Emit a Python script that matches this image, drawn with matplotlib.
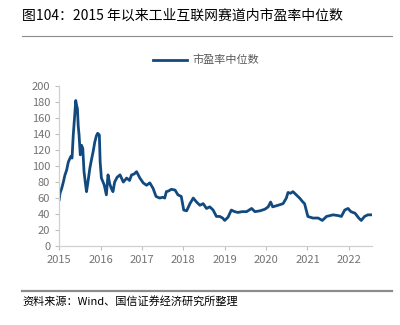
import matplotlib as mpl

mpl.use("Agg")
import matplotlib.pyplot as plt
from matplotlib.lines import Line2D

plt.rcParams["font.family"] = ["Noto Sans CJK SC", "DejaVu Sans"]

TITLE = "图104：2015 年以来工业互联网赛道内市盈率中位数"
SOURCE = "资料来源：Wind、国信证券经济研究所整理"
SERIES_LABEL = "市盈率中位数"

# decimal year, median PE
years = [
    2015.00, 2015.02, 2015.06, 2015.10, 2015.14, 2015.18, 2015.22, 2015.28, 2015.31,
    2015.34, 2015.37, 2015.40, 2015.42, 2015.44, 2015.46, 2015.48, 2015.51, 2015.54,
    2015.57, 2015.60, 2015.63, 2015.66, 2015.70, 2015.74, 2015.78, 2015.82, 2015.86,
    2015.90, 2015.93, 2015.97, 2015.99, 2016.02, 2016.06, 2016.09, 2016.14, 2016.18,
    2016.22, 2016.26, 2016.30, 2016.34, 2016.40, 2016.47, 2016.55, 2016.63, 2016.70,
    2016.75, 2016.81, 2016.87, 2016.92, 2016.95, 2017.03, 2017.11, 2017.19, 2017.27,
    2017.34, 2017.43, 2017.50, 2017.55, 2017.59, 2017.65, 2017.71, 2017.80, 2017.87,
    2017.95, 2018.01, 2018.08, 2018.16, 2018.24, 2018.32, 2018.40, 2018.48, 2018.56,
    2018.64, 2018.72, 2018.80, 2018.88, 2018.95, 2019.00, 2019.08, 2019.16, 2019.24,
    2019.32, 2019.42, 2019.53, 2019.65, 2019.73, 2019.85, 2019.97, 2020.05, 2020.11,
    2020.16, 2020.29, 2020.41, 2020.49, 2020.53, 2020.59, 2020.65, 2020.73, 2020.81,
    2020.89, 2020.93, 2020.97, 2021.01, 2021.13, 2021.26, 2021.36, 2021.46, 2021.62,
    2021.75, 2021.82, 2021.90, 2021.98, 2022.05, 2022.15, 2022.24, 2022.30, 2022.38,
    2022.46, 2022.54,
]
pe = [
    58, 66, 72, 80, 89, 95, 105, 112, 110,
    139, 160, 182, 176, 172, 150, 139, 114, 126,
    122, 93, 80, 68, 82, 97, 108, 118, 130,
    138, 141, 139, 105, 85, 80, 76, 64, 89,
    78, 72, 68, 80, 86, 89, 80, 85, 82,
    89, 90, 93, 88, 85, 79, 76, 79, 72,
    62, 60, 61, 60, 68, 69, 71, 70, 64,
    62, 45, 44, 53, 60, 55, 51, 53, 47,
    49, 45, 37, 37, 35, 32, 36, 45, 43,
    42, 43, 43, 47, 43, 44, 46, 49, 55,
    49, 51, 53, 60, 67, 66, 68, 64, 60,
    55, 53, 45, 37, 35, 35, 32, 37, 39,
    38, 37, 45, 47, 43, 41, 35, 32, 37,
    39, 39,
]

LINE_COLOR = "#124a80"
GRAY = "#737373"

fig = plt.figure(figsize=(4.0, 3.25), dpi=100)
ax = fig.add_axes([0.148, 0.243, 0.782, 0.492])

ax.plot(years, pe, color=LINE_COLOR, linewidth=2.0, solid_joinstyle="round")

ax.set_xlim(2015.0, 2022.56)
ax.set_ylim(0, 200)
ax.set_yticks(range(0, 201, 20))
ax.set_xticks(range(2015, 2023))
ax.tick_params(colors="#bfbfbf", labelcolor=GRAY, labelsize=8, length=3, width=0.8)
for side in ("top", "right"):
    ax.spines[side].set_visible(False)
for side in ("left", "bottom"):
    ax.spines[side].set_color("#d0d0d0")
    ax.spines[side].set_linewidth(0.9)

handle = Line2D([], [], color=LINE_COLOR, linewidth=2.0)
fig.legend([handle], [SERIES_LABEL], loc="center", bbox_to_anchor=(0.515, 0.815),
           frameon=False, fontsize=8, handlelength=3.0, handletextpad=0.5,
           labelcolor="#595959")

# header, rules and source line
fig.text(0.055, 0.953, TITLE, fontsize=10, color="black", va="center", ha="left")
fig.add_artist(Line2D([0.055, 0.98], [0.888, 0.888], color="#8c8c8c", linewidth=0.8))
fig.add_artist(Line2D([0.055, 0.98], [0.105, 0.105], color="#8c8c8c", linewidth=1.6))
fig.text(0.055, 0.073, SOURCE, fontsize=8, color="black", va="center", ha="left")

fig.savefig("out.png", dpi=100)
